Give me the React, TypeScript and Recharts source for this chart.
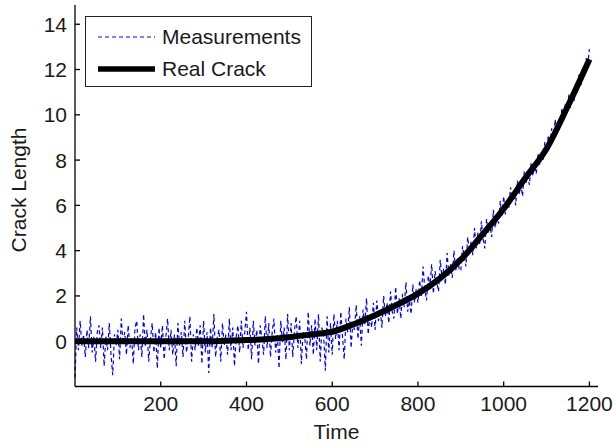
import { LineChart, Line, XAxis, YAxis, Legend, Label } from 'recharts'

// measurements, one every 4 time units from t = 0
const MEAS_STEP = 4
const MEASUREMENTS = [
  -1.6, 0.6, -0.4, 0.9, -0.2, 0.3, -0.7, 0.5, -0.3, 1.1, -0.5, 0.2, -0.9, 0.4, 0.7, -0.3, 0.6, -1.1, 0.2, -0.4, 0.8, -0.6, -1.5, 0.3, -0.2,
  0.5, -0.8, 1.0, -0.1, 0.4, -0.6, 0.7, -0.3, 0.2, -1.0, 0.6, 0.9, -0.4, 0.3, -0.7, 1.2, -0.2, 0.5, -0.9, 0.1, 0.8, -0.5, 0.4, -1.2, 0.6,
  -0.3, 0.7, -0.8, 0.2, 1.0, -0.4, 0.5, -0.6, 0.3, -1.1, 0.8, -0.2, 0.4, -0.7, 0.9, -0.5, 0.1, 1.1, -0.9, 0.3, -0.4, 0.6, -0.2, 0.7, -1.0,
  0.9, -0.5, 0.4, -1.4, 0.6, -0.3, 1.2, -0.7, 0.2, 0.5, -0.9, 0.8, -0.2, 0.3, -0.6, 1.0, -0.4, 0.6, -1.1, 0.2, 0.7, -0.5, 0.9, -0.3, 0.4,
  1.3, -0.4, 0.6, -0.8, 0.9, -0.2, 0.5, -1.0, 0.7, 0.1, -0.6, 1.1, -0.3, 0.8, -0.7, 0.4, 1.0, -0.5, 0.3, -1.2, 0.9, -0.1, 0.6, -0.8, 1.2,
  -0.4, 0.8, -0.7, 0.5, 1.1, -0.3, 0.9, -1.0, 0.4, 0.2, -0.8, 1.3, -0.2, 0.7, -0.6, 1.0, -0.4, 1.2, -0.9, 0.6, 0.3, -1.3, 1.1, -0.5, 0.8,
  -0.6, 1.2, 0.1, 0.9, -0.4, 1.3, 0.2, -0.8, 1.0, 0.4, 1.5, -0.3, 0.8, 0.5, 1.6, 0.1, 1.1, -0.2, 1.4, 0.7, 1.9, 0.3, 1.2, 0.6, 1.7,
  0.5, 1.8, 0.9, 1.4, 0.6, 2.0, 1.1, 1.7, 0.8, 2.2, 1.3, 1.0, 2.4, 1.2, 1.9, 1.0, 2.1, 1.5, 2.6, 1.3, 1.8, 1.2, 2.5, 1.7, 2.3,
  1.7, 2.7, 2.0, 3.3, 2.3, 1.8, 2.9, 2.4, 3.4, 2.1, 3.1, 2.6, 2.2, 3.6, 2.8, 3.2, 2.5, 3.9, 2.9, 3.4, 2.8, 4.0, 3.1, 3.7, 3.2,
  3.1, 4.2, 3.7, 3.3, 4.6, 3.9, 4.4, 3.8, 5.0, 4.1, 4.8, 4.3, 5.3, 4.5, 4.1, 5.4, 4.8, 5.1, 4.6, 5.8, 5.0, 5.5, 5.2, 6.2, 5.5,
  6.4, 5.6, 6.2, 5.9, 6.8, 6.2, 6.6, 6.0, 7.1, 6.5, 6.9, 6.4, 7.5, 7.0, 7.3, 6.9, 7.9, 7.3, 7.7, 7.4, 8.3, 7.8, 8.1, 8.0, 8.8,
  8.3, 9.1, 8.7, 9.4, 8.9, 9.8, 9.2, 9.6, 9.6, 10.3, 9.8, 10.5, 10.1, 10.9, 10.3, 11.0, 10.6, 11.4, 11.0, 11.8, 11.3, 12.1, 11.8, 12.5, 12.2,
  12.9,
]

const CRACK_TIMES = [0, 50, 100, 150, 200, 250, 300, 350, 400, 450, 500, 550, 600, 650, 700, 750, 800, 850, 900, 950, 1000, 1050, 1100, 1150, 1200]
const CRACK_VALUES = [0, 0, 0, 0, 0, 0, 0, 0.02, 0.05, 0.1, 0.18, 0.3, 0.42, 0.75, 1.15, 1.6, 2.1, 2.75, 3.6, 4.7, 5.85, 7.2, 8.5, 10.4, 12.45]

const X_TICKS = [200, 400, 600, 800, 1000, 1200]
const Y_TICKS = [0, 2, 4, 6, 8, 10, 12, 14]

const measData = MEASUREMENTS.map((v, i) => ({ t: i * MEAS_STEP, v }))
const crackData = CRACK_TIMES.map((t, i) => ({ t, v: CRACK_VALUES[i] }))

const FONT = "'Liberation Sans', Arial, sans-serif"
const tickStyle = { fontSize: 21, fill: '#1a1a1a', fontFamily: FONT }

function BoxLegend() {
  return (
    <div style={{ width: 225, height: 69, border: '1px solid #222', background: '#fff', fontFamily: FONT, fontSize: 21, color: '#1a1a1a', position: 'relative' }}>
      <svg width={60} height={69} style={{ position: 'absolute', left: 11, top: 0 }}>
        <line x1={1} x2={58} y1={20} y2={20} stroke="#0000ff" strokeWidth={1} strokeDasharray="4 3" />
        <line x1={1} x2={58} y1={52} y2={52} stroke="#000" strokeWidth={5.5} />
      </svg>
      <div style={{ position: 'absolute', left: 76, top: 7, lineHeight: '26px' }}>Measurements</div>
      <div style={{ position: 'absolute', left: 76, top: 39, lineHeight: '26px' }}>Real Crack</div>
    </div>
  )
}

export default function App() {
  return (
    <div style={{ position: 'absolute', left: 0, top: 0, background: '#fff' }}>
      <LineChart width={616} height={448} margin={{ top: 5, right: 18, bottom: 0, left: 0 }}>
        <XAxis
          type="number"
          dataKey="t"
          domain={[0, 1220]}
          ticks={X_TICKS}
          allowDuplicatedCategory={false}
          height={61.5}
          tick={tickStyle}
          tickSize={-5}
          tickMargin={15}
          stroke="#000"
          strokeWidth={1.3}
        >
          <Label value="Time" position="insideBottom" offset={9} style={{ fontSize: 21, fill: '#1a1a1a', fontFamily: FONT }} />
        </XAxis>
        <YAxis
          type="number"
          domain={[-2, 14.85]}
          ticks={Y_TICKS}
          width={75}
          tick={tickStyle}
          tickSize={-5}
          tickMargin={13}
          stroke="#000"
          strokeWidth={1.3}
        >
          <Label
            content={() => (
              <text x={26} y={190} transform="rotate(-90 26 190)" textAnchor="middle" style={{ fontSize: 21, fill: '#1a1a1a', fontFamily: FONT }}>
                Crack Length
              </text>
            )}
          />
        </YAxis>
        <Legend
          layout="horizontal"
          verticalAlign="middle"
          align="center"
          content={() => <BoxLegend />}
          wrapperStyle={{ left: 85, top: 16, width: 227 }}
        />
        <Line
          data={measData}
          dataKey="v"
          type="linear"
          stroke="#0000ff"
          strokeWidth={1.2}
          strokeDasharray="4 3"
          dot={false}
          isAnimationActive={false}
        />
        <Line
          data={crackData}
          dataKey="v"
          type="monotone"
          stroke="#000"
          strokeWidth={6}
          dot={false}
          isAnimationActive={false}
        />
      </LineChart>
    </div>
  )
}
